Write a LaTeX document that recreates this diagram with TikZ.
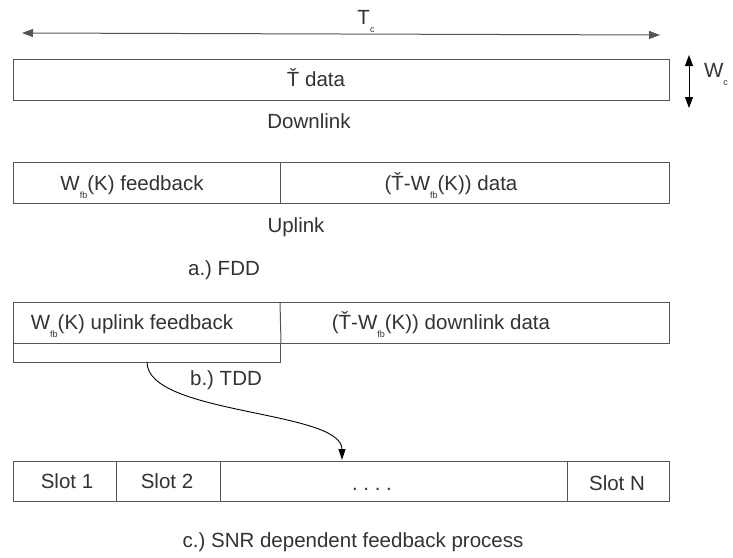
\documentclass[tikz,border=0pt]{standalone}
\usepackage{fontspec}
\setmainfont{Liberation Sans}
\usetikzlibrary{arrows.meta}
\definecolor{txt}{HTML}{333333}
\definecolor{ln}{HTML}{555555}
\newcommand{\mysub}[1]{\raisebox{-0.4em}{\fontsize{9}{9}\selectfont #1}}
\begin{document}
\frenchspacing
\begin{tikzpicture}[x=1pt,y=-1pt,
  lbl/.style={text=txt,font=\fontsize{20.5}{24}\selectfont,anchor=base,inner sep=0pt},
  frame/.style={draw=ln,line width=1pt},
  dimarrow/.style={line width=1pt,{Triangle[length=11pt,width=8pt]}-{Triangle[length=11pt,width=8pt]}},
  flow/.style={line width=0.9pt,-{Triangle[length=11pt,width=7pt]}}]
\useasboundingbox[fill=white] (0,0) rectangle (733,557);
% T_c arrow
\coordinate (tcl) at (22,33);
\coordinate (tcr) at (660,35);
\draw[dimarrow,draw=ln] (tcl) -- (tcr);
\node[lbl] (tc) at (366,24) {T\mysub{c}};
% Downlink
\node[frame,minimum width=656pt,minimum height=41pt,anchor=north west,inner sep=0pt] (dl) at (13,59) {};
\node[lbl] (dltext) at (316,86) {Ť data};
\coordinate (wct) at (689,55);
\coordinate (wcb) at (689,108);
\draw[dimarrow] (wct) -- (wcb);
\node[lbl] (wc) at (716,77) {W\mysub{c}};
\node[lbl] (dlname) at (309,128) {Downlink};
% Uplink
\node[frame,minimum width=656pt,minimum height=41pt,anchor=north west,inner sep=0pt] (ul) at (13,162) {};
\coordinate (uld1) at (280,162);
\coordinate (uld2) at (280,203);
\draw[frame] (uld1) -- (uld2);
\node[lbl] (ulfb) at (132,190) {W\mysub{fb}(K) feedback};
\node[lbl] (uldata) at (451,190) {(Ť-W\mysub{fb}(K)) data};
\node[lbl] (ulname) at (296,232) {Uplink};
\node[lbl] (fdd) at (224,275) {a.) FDD};
% TDD
\node[frame,minimum width=656pt,minimum height=41pt,anchor=north west,inner sep=0pt] (td) at (13,302) {};
\node[frame,minimum width=267pt,minimum height=19pt,anchor=north west,inner sep=0pt] (tdlow) at (13,343) {};
\coordinate (tdd1) at (280,302);
\draw[frame] (tdd1) -- (tdlow.north east);
\node[lbl] (tdfb) at (132,329) {W\mysub{fb}(K) uplink feedback};
\node[lbl] (tddata) at (441,329) {(Ť-W\mysub{fb}(K)) downlink data};
\node[lbl] (tdd) at (226,385) {b.) TDD};
% Slots
\node[frame,minimum width=656pt,minimum height=40pt,anchor=north west,inner sep=0pt] (sl) at (13,461) {};
\coordinate (s1t) at (116,461); \coordinate (s1b) at (116,501);
\coordinate (s2t) at (220,461); \coordinate (s2b) at (220,501);
\coordinate (s3t) at (567,461); \coordinate (s3b) at (567,501);
\draw[frame] (s1t) -- (s1b) (s2t) -- (s2b) (s3t) -- (s3b);
\node[lbl] (slot1) at (67,488) {Slot 1};
\node[lbl] (slot2) at (167,488) {Slot 2};
\node[lbl] (dots) at (372,490) {. . . .};
\node[lbl] (slotn) at (617,490) {Slot N};
\node[lbl] (snr) at (353,547) {c.) SNR dependent feedback process};
% curve
\coordinate (cs) at (147,362);
\coordinate (ce) at (342,460);
\draw[flow] (cs) .. controls (147,415) and (342,410) .. (ce);
\end{tikzpicture}
\end{document}
